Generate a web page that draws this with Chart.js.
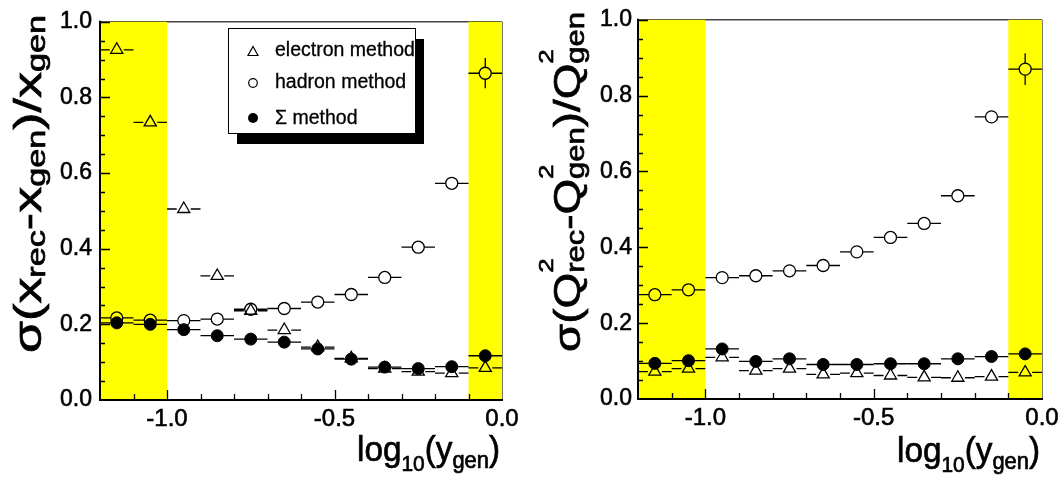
<!DOCTYPE html>
<html lang="en">
<head>
<meta charset="UTF-8">
<title>Resolution of x and Q2 reconstruction methods</title>
<script src="https://cdn.jsdelivr.net/npm/chart.js"></script>
<style>
  body { margin: 0; background: #ffffff; }
  #wrap { position: relative; width: 1064px; height: 485px; }
  canvas { position: absolute; top: 0; }
</style>
</head>
<body>
<div id="wrap">
  <canvas id="leftChart" width="532" height="485" style="left:0"></canvas>
  <canvas id="rightChart" width="532" height="485" style="left:532px"></canvas>
</div>
<script>
// bins in log10(y_gen), each 0.1 wide
const binCenters = [-1.15, -1.05, -0.95, -0.85, -0.75, -0.65, -0.55, -0.45, -0.35, -0.25, -0.15, -0.05];
const binHalfWidth = [0.05, 0.05, 0.05, 0.05, 0.05, 0.05, 0.05, 0.05, 0.05, 0.05, 0.05, 0.05];

// left panel: sigma(x_rec - x_gen)/x_gen
const xElectron = [0.926, 0.734, 0.505, 0.328, 0.236, 0.185, 0.140, 0.110, 0.083, 0.075, 0.071, 0.085];
const xHadron   = [0.217, 0.211, 0.210, 0.214, 0.240, 0.242, 0.259, 0.279, 0.324, 0.404, 0.573, 0.864];
const xSigma    = [0.204, 0.200, 0.186, 0.170, 0.161, 0.153, 0.135, 0.108, 0.087, 0.083, 0.088, 0.117];
const xHadronErr = [0, 0, 0, 0, 0, 0, 0, 0, 0, 0, 0, 0.040];

// right panel: sigma(Q2_rec - Q2_gen)/Q2_gen
const qElectron = [0.072, 0.080, 0.110, 0.075, 0.080, 0.065, 0.068, 0.062, 0.057, 0.056, 0.059, 0.070];
const qHadron   = [0.275, 0.288, 0.320, 0.325, 0.338, 0.352, 0.388, 0.426, 0.463, 0.536, 0.744, 0.870];
const qSigma    = [0.094, 0.101, 0.132, 0.099, 0.106, 0.091, 0.091, 0.093, 0.093, 0.106, 0.112, 0.119];
const qHadronErr = [0, 0, 0, 0, 0, 0, 0, 0, 0, 0, 0, 0.042];

const zeroErr = [0, 0, 0, 0, 0, 0, 0, 0, 0, 0, 0, 0];

// axes
const xTickValues = [-1.0, -0.5, 0.0];
const yTickValues = [0.0, 0.2, 0.4, 0.6, 0.8, 1.0];
const yellowBands = [[-1.2, -1.0], [-0.1, 0.0]];
const legendLabels = ['electron method', 'hadron method', '\u03A3 method'];

const FONT = '"Liberation Sans", Arial, Helvetica, sans-serif';

function toPoints(ys) {
  return binCenters.map((x, i) => ({ x: x, y: ys[i] }));
}

// --- rich text (sub/superscripts) ---
function partWidth(ctx, p) {
  if (p.stack) {
    ctx.font = `${p.supSize}px ${FONT}`;
    const a = ctx.measureText(p.sup).width;
    ctx.font = `${p.size}px ${FONT}`;
    const b = ctx.measureText(p.sub).width;
    return Math.max(a, b);
  }
  ctx.font = `${p.size}px ${FONT}`;
  return ctx.measureText(p.text).width;
}

function drawRich(ctx, parts, x, y, length, rotated) {
  ctx.save();
  ctx.translate(x, y);
  if (rotated) ctx.rotate(-Math.PI / 2);
  let total = 0;
  parts.forEach(p => { total += partWidth(ctx, p); });
  ctx.scale(length / total, 1);
  ctx.fillStyle = '#000';
  ctx.strokeStyle = '#000';
  ctx.lineWidth = 0.7;
  ctx.textBaseline = 'alphabetic';
  ctx.textAlign = 'left';
  let pos = 0;
  const put = (t, px, py) => { ctx.fillText(t, px, py); ctx.strokeText(t, px, py); };
  parts.forEach(p => {
    const w = partWidth(ctx, p);
    if (p.stack) {
      ctx.font = `${p.supSize}px ${FONT}`;
      put(p.sup, pos, p.supDy);
      ctx.font = `${p.size}px ${FONT}`;
      put(p.sub, pos, p.dy);
    } else {
      ctx.font = `${p.size}px ${FONT}`;
      put(p.text, pos, p.dy || 0);
    }
    pos += w;
  });
  ctx.restore();
}

const xAxisTitle = [
  { text: 'log', size: 35 },
  { text: '10', size: 22, dy: 10 },
  { text: '(y', size: 35 },
  { text: 'gen', size: 23, dy: 7 },
  { text: ')', size: 35 }
];

const leftYTitle = [
  { text: '\u03C3(x', size: 38 },
  { text: 'rec', size: 25, dy: 4 },
  { text: '-x', size: 38 },
  { text: 'gen', size: 25, dy: 4 },
  { text: ')/x', size: 38 },
  { text: 'gen', size: 25, dy: 4 }
];

const rightYTitle = [
  { text: '\u03C3(Q', size: 37 },
  { stack: true, sup: '2', sub: 'rec', size: 25, supSize: 21, supDy: -27, dy: 4 },
  { text: '-Q', size: 37 },
  { stack: true, sup: '2', sub: 'gen', size: 25, supSize: 21, supDy: -27, dy: 4 },
  { text: ')/Q', size: 37 },
  { stack: true, sup: '2', sub: 'gen', size: 25, supSize: 21, supDy: -27, dy: 4 }
];

// yellow bands + top frame + error bars, under the markers
const underlayPlugin = {
  id: 'underlay',
  beforeDatasetsDraw(chart) {
    const { ctx, chartArea: a, scales: { x, y } } = chart;
    ctx.save();
    ctx.strokeStyle = '#444';
    ctx.lineWidth = 1.5;
    ctx.beginPath();
    ctx.moveTo(a.left, a.top);
    ctx.lineTo(a.right, a.top);
    ctx.stroke();

    ctx.fillStyle = '#ffff00';
    yellowBands.forEach(([lo, hi]) => {
      const x0 = x.getPixelForValue(lo);
      const x1 = x.getPixelForValue(hi);
      ctx.fillRect(x0, a.top, x1 - x0, a.bottom - a.top);
    });

    ctx.strokeStyle = '#000';
    ctx.lineWidth = 1.3;
    chart.data.datasets.forEach(ds => {
      const gap = ds.pointRadius;
      ds.data.forEach((pt, j) => {
        const px = x.getPixelForValue(pt.x);
        const py = y.getPixelForValue(pt.y);
        const xl = x.getPixelForValue(pt.x - binHalfWidth[j]);
        const xr = x.getPixelForValue(pt.x + binHalfWidth[j]);
        ctx.beginPath();
        ctx.moveTo(xl, py); ctx.lineTo(px - gap, py);
        ctx.moveTo(px + gap, py); ctx.lineTo(xr, py);
        const e = ds.yErr[j];
        if (e > 0) {
          const yt = y.getPixelForValue(pt.y + e);
          const yb = y.getPixelForValue(pt.y - e);
          ctx.moveTo(px, yt); ctx.lineTo(px, py - gap);
          ctx.moveTo(px, py + gap); ctx.lineTo(px, yb);
        }
        ctx.stroke();
      });
    });
    ctx.restore();
  }
};

// frame, inward ticks and axis titles
const framePlugin = {
  id: 'frame',
  afterDatasetsDraw(chart, args, opts) {
    const { ctx, chartArea: a, scales: { x, y } } = chart;
    ctx.save();
    ctx.strokeStyle = '#777';
    ctx.lineWidth = 1;
    ctx.beginPath();
    ctx.moveTo(a.right + 0.5, a.top);
    ctx.lineTo(a.right + 0.5, a.bottom);
    ctx.stroke();

    ctx.strokeStyle = '#000';
    ctx.lineWidth = 2;
    ctx.beginPath();
    ctx.moveTo(a.left, a.top - 1);
    ctx.lineTo(a.left, a.bottom);
    ctx.lineTo(a.right + 1, a.bottom);
    ctx.stroke();

    ctx.lineWidth = 1.3;
    ctx.beginPath();
    for (let k = 1; k <= 20; k++) {
      const v = k * 0.05;
      const len = (k % 4 === 0) ? 10 : 5;
      const py = Math.round(y.getPixelForValue(v)) + 0.5;
      ctx.moveTo(a.left, py);
      ctx.lineTo(a.left + len, py);
    }
    for (let k = 1; k <= 11; k++) {
      const v = -1.2 + k * 0.1;
      const len = (k === 2 || k === 7) ? 10 : 6;
      const px = Math.round(x.getPixelForValue(v)) + 0.5;
      ctx.moveTo(px, a.bottom);
      ctx.lineTo(px, a.bottom - len);
    }
    ctx.stroke();
    ctx.restore();

    drawRich(ctx, xAxisTitle, opts.xTitleX, opts.xTitleY, opts.xTitleLen, false);
    drawRich(ctx, opts.yTitle, opts.yTitleX, opts.yTitleY, opts.yTitleLen, true);
  }
};

// legend box with shadow (left panel only)
const legendPlugin = {
  id: 'boxLegend',
  afterDraw(chart, args, opts) {
    if (!opts.show) return;
    const ctx = chart.ctx;
    const bx = 228, by = 28, bw = 187, bh = 105;
    ctx.save();
    ctx.fillStyle = '#000';
    ctx.fillRect(bx + 9, by + 11, bw, bh);
    ctx.fillStyle = '#fff';
    ctx.fillRect(bx, by, bw, bh);
    ctx.strokeStyle = '#000';
    ctx.lineWidth = 1;
    ctx.strokeRect(bx + 0.5, by + 0.5, bw, bh);

    const rows = [52, 83, 118];
    const baselines = [56, 88, 124];
    const mx = 253;
    ctx.lineWidth = 1.2;
    // triangle
    ctx.beginPath();
    ctx.moveTo(mx, rows[0] - 5.5);
    ctx.lineTo(mx + 5, rows[0] + 3.5);
    ctx.lineTo(mx - 5, rows[0] + 3.5);
    ctx.closePath();
    ctx.stroke();
    // open circle
    ctx.beginPath();
    ctx.arc(mx, rows[1], 4.3, 0, Math.PI * 2);
    ctx.stroke();
    // full circle
    ctx.fillStyle = '#000';
    ctx.beginPath();
    ctx.arc(mx, rows[2], 5, 0, Math.PI * 2);
    ctx.fill();

    ctx.font = `19.5px ${FONT}`;
    ctx.textBaseline = 'alphabetic';
    ctx.lineWidth = 0.3;
    legendLabels.forEach((t, i) => {
      ctx.fillText(t, 275, baselines[i]);
      ctx.strokeText(t, 275, baselines[i]);
    });
    ctx.restore();
  }
};

function makeDatasets(el, had, sig, hadErr) {
  return [
    {
      label: 'electron method', data: toPoints(el), yErr: zeroErr,
      pointStyle: 'triangle', pointRadius: 7, borderColor: '#000',
      backgroundColor: 'rgba(0,0,0,0)', borderWidth: 1.3, order: 3
    },
    {
      label: 'hadron method', data: toPoints(had), yErr: hadErr,
      pointStyle: 'circle', pointRadius: 6, borderColor: '#000',
      backgroundColor: 'rgba(0,0,0,0)', borderWidth: 1.3, order: 2
    },
    {
      label: '\u03A3 method', data: toPoints(sig), yErr: zeroErr,
      pointStyle: 'circle', pointRadius: 6, borderColor: '#000',
      backgroundColor: '#000', borderWidth: 1, order: 1
    }
  ];
}

function makeChart(canvasId, datasets, cfg) {
  return new Chart(document.getElementById(canvasId), {
    type: 'scatter',
    data: { datasets: datasets },
    options: {
      responsive: false,
      animation: false,
      events: [],
      showLine: false,
      layout: { padding: { top: 14, right: cfg.padRight, left: 0, bottom: 0 } },
      plugins: {
        legend: { display: false },
        tooltip: { enabled: false },
        frame: cfg.frame,
        boxLegend: { show: cfg.legend }
      },
      scales: {
        x: {
          type: 'linear', min: -1.2, max: 0.0,
          grid: { display: false, drawTicks: false },
          border: { display: false },
          afterBuildTicks: s => { s.ticks = xTickValues.map(v => ({ value: v })); },
          afterFit: s => { s.height = cfg.xHeight; },
          ticks: {
            padding: 5, color: '#000', font: { family: FONT, size: 24 },
            textStrokeColor: '#000', textStrokeWidth: 0.6,
            maxRotation: 0, autoSkip: false,
            callback: v => v.toFixed(1)
          }
        },
        y: {
          type: 'linear', min: 0, max: 1.0,
          grid: { display: false, drawTicks: false },
          border: { display: false },
          afterBuildTicks: s => { s.ticks = yTickValues.map(v => ({ value: v })); },
          afterFit: s => { s.width = cfg.yWidth; },
          ticks: {
            padding: cfg.yPad, color: '#000', font: { family: FONT, size: 23 },
            textStrokeColor: '#000', textStrokeWidth: 0.6,
            callback: v => v.toFixed(1)
          }
        }
      }
    },
    plugins: [underlayPlugin, framePlugin, legendPlugin]
  });
}

makeChart('leftChart', makeDatasets(xElectron, xHadron, xSigma, xHadronErr), {
  padRight: 30, xHeight: 85, yWidth: 100, yPad: 8, legend: true,
  frame: {
    xTitleX: 357, xTitleY: 461, xTitleLen: 143,
    yTitle: leftYTitle, yTitleX: 41, yTitleY: 353, yTitleLen: 338
  }
});

makeChart('rightChart', makeDatasets(qElectron, qHadron, qSigma, qHadronErr), {
  padRight: 22, xHeight: 86, yWidth: 106, yPad: 6, legend: false,
  frame: {
    xTitleX: 365, xTitleY: 462, xTitleLen: 143,
    yTitle: rightYTitle, yTitleX: 48, yTitleY: 352, yTitleLen: 340
  }
});
</script>
</body>
</html>
